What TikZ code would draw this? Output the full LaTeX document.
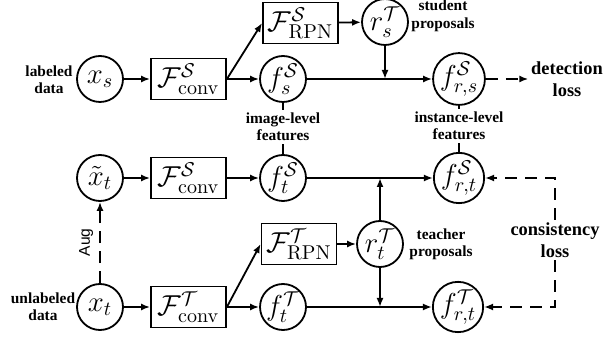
\documentclass[tikz,border=0pt]{standalone}
\usepackage[no-math]{fontspec}
\setmainfont{Liberation Serif}
\newfontfamily\augfont{Liberation Sans}
\usetikzlibrary{arrows.meta}
\begin{document}
\begin{tikzpicture}[x=0.5pt,y=-0.5pt,
  line width=0.9pt,
  >={Latex[length=4.5pt,width=3.5pt]},
  circ/.style={draw,circle,minimum size=23pt,inner sep=0pt,font=\fontsize{14}{16}\selectfont},
  blk/.style={draw,rectangle,minimum width=37.5pt,minimum height=20.5pt,inner sep=0pt,font=\fontsize{14}{16}\selectfont},
  lbl/.style={font=\fontsize{7.7}{8.7}\selectfont\bfseries,align=center,inner sep=1pt},
  loss/.style={font=\fontsize{9.2}{11}\selectfont\bfseries,align=center,inner sep=1pt},
  dsh/.style={dash pattern=on 6pt off 4pt},
]
\useasboundingbox (0,0) rectangle (604,341);
% row 1
\node[circ] (xs) at (100,79) {$x_s$};
\node[blk] (Fs1) at (188.5,79) {$\mathcal{F}^{\mathcal{S}}_{\mathrm{conv}}$};
\node[circ] (fs) at (283,79) {$f^{\mathcal{S}}_s$};
\node[blk] (RPNs) at (300.5,23) {$\mathcal{F}^{\mathcal{S}}_{\mathrm{RPN}}$};
\node[circ] (rs) at (385,22) {$r^{\mathcal{T}}_s$};
\node[circ] (frs) at (459,79) {$f^{\mathcal{S}}_{r,s}$};
\node[loss] (det) at (567,79) {detection\\loss};
% row 2
\node[circ] (xtt) at (100,178) {$\tilde{x}_t$};
\node[blk] (Fs2) at (188.5,178) {$\mathcal{F}^{\mathcal{S}}_{\mathrm{conv}}$};
\node[circ] (ft) at (283,178) {$f^{\mathcal{S}}_t$};
\node[circ] (frtS) at (459,178) {$f^{\mathcal{S}}_{r,t}$};
% rows 3-4
\node[circ] (xt) at (100,307) {$x_t$};
\node[blk] (FT) at (188.5,307) {$\mathcal{F}^{\mathcal{T}}_{\mathrm{conv}}$};
\node[circ] (ftT) at (283,307) {$f^{\mathcal{T}}_t$};
\node[blk] (RPNT) at (299,244) {$\mathcal{F}^{\mathcal{T}}_{\mathrm{RPN}}$};
\node[circ] (rt) at (380,244) {$r^{\mathcal{T}}_t$};
\node[circ] (frtT) at (458,307) {$f^{\mathcal{T}}_{r,t}$};
% labels
\node[lbl] (lab) at (49,80) {labeled\\data};
\node[lbl] (unlab) at (43,307) {unlabeled\\data};
\node[lbl] (stud) at (443,16) {student\\proposals};
\node[lbl] (teach) at (441,244) {teacher\\proposals};
\node[lbl] (img) at (283,127) {image-level\\features};
\node[lbl] (inst) at (459,126) {instance-level\\features};
\node[loss] (cons) at (555,240) {consistency\\loss};
% connectors row 1
\draw[->] (xs) -- (Fs1);
\draw[->] (Fs1) -- (fs);
\draw[->] (Fs1.east) -- (RPNs.west);
\draw[->] (RPNs) -- (rs);
\draw[->] (fs) -- (frs);
\draw[->] (rs) -- (rs |- fs);
\draw[->,dsh] (frs) -- (det);
% feature labels
\draw (fs) -- (img);
\draw (img) -- (ft);
\draw (frs) -- (inst);
\draw (inst) -- (frtS);
% row 2
\draw[->] (xtt) -- (Fs2);
\draw[->] (Fs2) -- (ft);
\draw[->] (ft) -- (frtS);
% aug
\draw[->,dsh] (xt) -- node[midway,rotate=90,anchor=south,inner sep=3pt,font=\augfont\fontsize{7.8}{8}\selectfont] (aug) {Aug} (xtt);
% rows 3-4
\draw[->] (xt) -- (FT);
\draw[->] (FT) -- (ftT);
\draw[->] (FT.east) -- (RPNT.west);
\draw[->] (RPNT) -- (rt);
\draw[->] (ftT) -- (frtT);
\draw[->] (rt) -- (rt |- ft);
\draw[->] (rt) -- (rt |- ftT);
% consistency
\draw[->,dsh] (cons) |- (frtS);
\draw[->,dsh] (cons) |- (frtT);
\end{tikzpicture}
\end{document}
